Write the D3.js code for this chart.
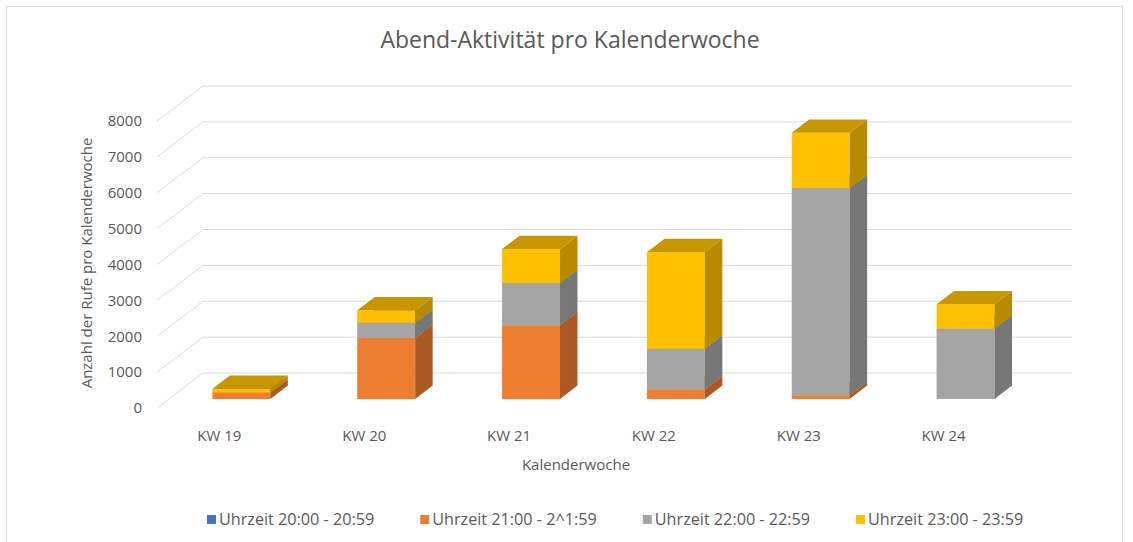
<!DOCTYPE html>
<html>
<head>
<meta charset="utf-8">
<script src="https://cdn.jsdelivr.net/npm/d3@7"></script>
<style>
  body { margin: 0; background: #fff; }
  text { font-family: "Open Sans", "Noto Sans", sans-serif; fill: #595959; }
</style>
</head>
<body>
<div class="chart"></div>
<script>
// data
const weeks = ['KW 19', 'KW 20', 'KW 21', 'KW 22', 'KW 23', 'KW 24']
const seriesNames = ['Uhrzeit 20:00 - 20:59', 'Uhrzeit 21:00 - 2^1:59', 'Uhrzeit 22:00 - 22:59', 'Uhrzeit 23:00 - 23:59']
const h20 = [0, 0, 0, 0, 0, 0]
const h21 = [180, 1700, 2050, 260, 100, 0]
const h22 = [0, 420, 1180, 1140, 5780, 1960]
const h23 = [100, 350, 950, 2690, 1540, 680]
const yTicks = [0, 1000, 2000, 3000, 4000, 5000, 6000, 7000, 8000]
const colors = ['#4472C4', '#ED7D31', '#A5A5A5', '#FFC000']

const width = 1133, height = 542
const svg = d3.select('.chart').append('svg').attr('width', width).attr('height', height)

// chart border (only top/left visible in the shot)
svg.append('rect').attr('x', 6.5).attr('y', 6.5).attr('width', 1116).attr('height', 560)
  .attr('fill', 'none').attr('stroke', '#d9d9d9')

// oblique 3d: front plane scales + depth offset
const depth = {dx: 46, dy: -35}
const x = d3.scaleBand().domain(weeks).range([157, 1026]).paddingInner(0.6).paddingOuter(0.3)
const y = d3.scaleLinear().domain([0, 8000]).range([408, 121])
const zFront = 0.26, zBack = 0.64
const P = (px, py, z) => [px + depth.dx * z, py + depth.dy * z]
const poly = pts => 'M' + pts.map(p => p.join(',')).join('L') + 'Z'

// walls: back gridlines + side wall diagonals
const grid = svg.append('g').attr('stroke', '#d9d9d9').attr('stroke-width', 1).attr('fill', 'none')
yTicks.forEach(t => {
  const b0 = P(157, y(t), 1)
  grid.append('line').attr('x1', b0[0]).attr('y1', b0[1]).attr('x2', 1026 + depth.dx).attr('y2', b0[1])
  grid.append('line').attr('x1', 157).attr('y1', y(t)).attr('x2', b0[0]).attr('y2', b0[1])
})

// y tick labels at front edge
svg.append('g').selectAll('text').data(yTicks).join('text')
  .attr('x', 142).attr('y', d => y(d)).attr('dy', '0.35em')
  .attr('text-anchor', 'end').attr('font-size', 15).text(d => d)

// stacked boxes
const table = weeks.map((w, i) => ({week: w, s0: h20[i], s1: h21[i], s2: h22[i], s3: h23[i]}))
const stack = d3.stack().keys(['s0', 's1', 's2', 's3'])(table)
const shade = (c, k) => { const r = d3.rgb(c); return d3.rgb(r.r * k, r.g * k, r.b * k).formatHex() }

const bars = svg.append('g')
weeks.forEach((w, i) => {
  const x0 = x(w), x1 = x(w) + x.bandwidth()
  stack.forEach((layer, si) => {
    const [v0, v1] = layer[i]
    if (v1 - v0 <= 0) return
    const c = colors[si]
    const yb = y(v0), yt = y(v1)
    const front = [P(x0, yb, zFront), P(x1, yb, zFront), P(x1, yt, zFront), P(x0, yt, zFront)]
    const side = [P(x1, yb, zFront), P(x1, yb, zBack), P(x1, yt, zBack), P(x1, yt, zFront)]
    const top = [P(x0, yt, zFront), P(x1, yt, zFront), P(x1, yt, zBack), P(x0, yt, zBack)]
    bars.append('path').attr('d', poly(front)).attr('fill', c)
    bars.append('path').attr('d', poly(side)).attr('fill', shade(c, 0.72))
    bars.append('path').attr('d', poly(top)).attr('fill', shade(c, 0.78))
  })
})

// category labels
svg.append('g').selectAll('text').data(weeks).join('text')
  .attr('x', d => x(d) + x.bandwidth() / 2 - 10).attr('y', 441)
  .attr('text-anchor', 'middle').attr('font-size', 15).text(d => d)

// titles
svg.append('text').attr('x', 570).attr('y', 48).attr('text-anchor', 'middle')
  .attr('font-size', 23).text('Abend-Aktivität pro Kalenderwoche')
svg.append('text').attr('x', 576).attr('y', 470).attr('text-anchor', 'middle')
  .attr('font-size', 15).text('Kalenderwoche')
svg.append('text').attr('transform', 'translate(92,263) rotate(-90)').attr('text-anchor', 'middle')
  .attr('font-size', 15).text('Anzahl der Rufe pro Kalenderwoche')

// legend
const legend = svg.append('g')
let lx = 207
seriesNames.forEach((name, i) => {
  legend.append('rect').attr('x', lx).attr('y', 515).attr('width', 9).attr('height', 9).attr('fill', colors[i])
  const t = legend.append('text').attr('x', lx + 12).attr('y', 525).attr('font-size', 16.2).text(name)
  lx += 12 + t.node().getComputedTextLength() + 46
})
</script>
</body>
</html>
